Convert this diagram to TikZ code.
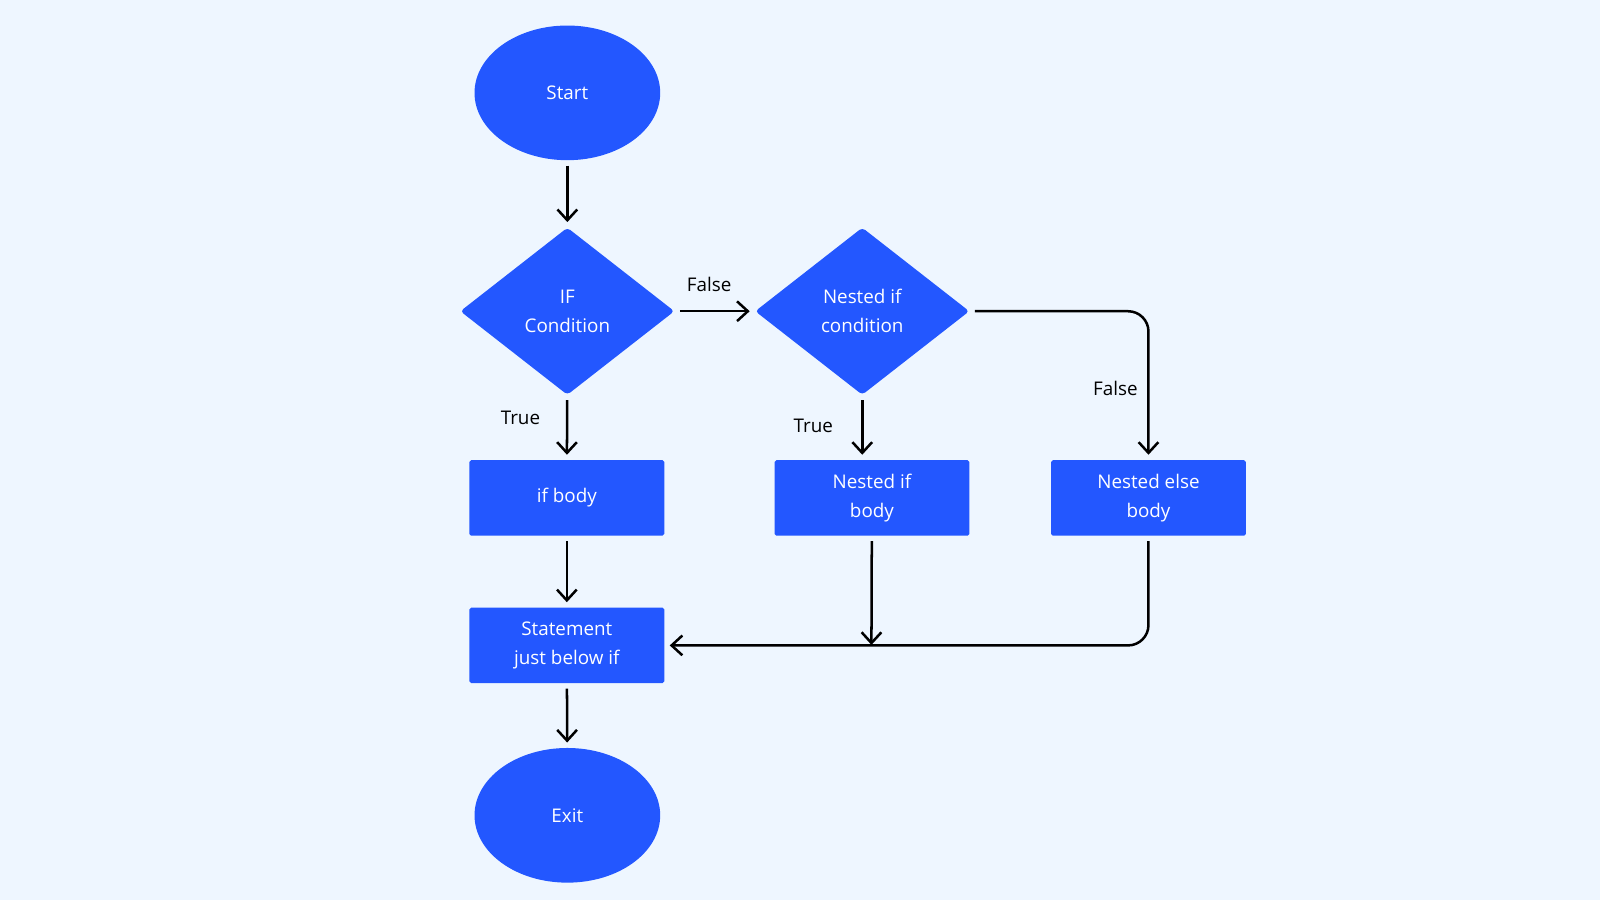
\documentclass[tikz,border=0pt]{standalone}
\usepackage{fontspec}
\setmainfont{Open Sans}
\usetikzlibrary{shapes.geometric,arrows.meta}
\definecolor{bg}{HTML}{EEF6FF}
\definecolor{blu}{HTML}{2357FF}
\begin{document}
\begin{tikzpicture}[x=0.02cm,y=-0.02cm,
  every node/.style={font=\fontsize{10.5}{16}\selectfont},
  term/.style={ellipse,fill=blu,text=white,minimum width=3.64cm,minimum height=2.64cm,inner sep=0},
  dec/.style={diamond,fill=blu,text=white,minimum width=4.2cm,minimum height=3.28cm,inner sep=0,align=center,rounded corners=2pt},
  proc/.style={rectangle,fill=blu,text=white,minimum width=3.82cm,minimum height=1.48cm,inner sep=0,align=center,rounded corners=1pt},
  arr/.style={draw=black,line width=1.4pt,-{Straight Barb[length=6pt,width=11pt,line width=1.4pt]},shorten >=0.1cm,shorten <=0.1cm},
  lbl/.style={text=black}]
\fill[bg] (0,0) rectangle (1568,882);
\node[term] (start) at (556,91) {Start};
\node[dec] (ifc) at (556,305) {IF\\Condition};
\node[dec] (nif) at (845,305) {Nested if\\condition};
\node[proc] (ifb) at (555.5,488) {if body};
\node[proc] (nifb) at (854.5,488) {Nested if\\body};
\node[proc] (nelse) at (1125.5,488) {Nested else\\body};
\node[proc] (stmt) at (555.5,632.5) {Statement\\just below if};
\node[term] (exit) at (556,799) {Exit};
\coordinate (join) at (854,632);
\draw[arr] (start) -- (ifc);
\draw[arr] (ifc) -- (nif);
\draw[arr] (ifc) -- (ifb);
\draw[arr] (nif.south) -- (nif.south |- nifb.north);
\draw[arr,rounded corners=0.4cm] (nif.east) -| (nelse.north);
\draw[arr] (ifb) -- (stmt);
\draw[arr,shorten >=0pt] (nifb) -- (join);
\draw[arr,rounded corners=0.4cm] (nelse.south) |- (stmt.east);
\draw[arr] (stmt) -- (exit);
\node[lbl] (l1) at (695,279) {False};
\node[lbl] (l2) at (510,410) {True};
\node[lbl] (l3) at (797,417) {True};
\node[lbl] (l4) at (1093,381) {False};
\end{tikzpicture}
\end{document}
